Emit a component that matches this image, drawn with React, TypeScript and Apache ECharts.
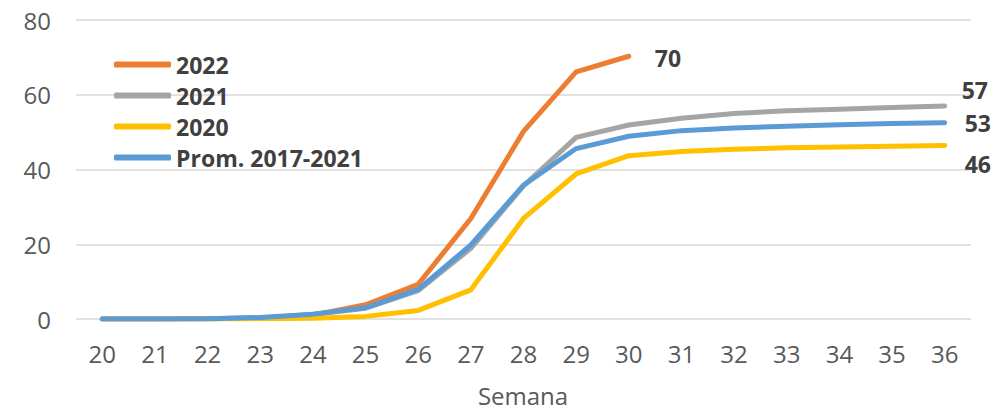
import React, { useEffect, useRef } from "react";
import * as echarts from "echarts";

const weeks = ["20","21","22","23","24","25","26","27","28","29","30","31","32","33","34","35","36"];
const s2022 = [0, 0, 0.1, 0.3, 1.0, 3.8, 9.3, 26.9, 50.2, 66.1, 70.3];
const s2021 = [0, 0, 0.1, 0.3, 1.2, 2.9, 7.6, 18.9, 35.6, 48.6, 51.9, 53.7, 55.0, 55.7, 56.1, 56.6, 57.0];
const s2020 = [0, 0, 0, 0.1, 0.2, 0.7, 2.3, 7.8, 26.9, 38.8, 43.7, 44.8, 45.4, 45.8, 46.0, 46.2, 46.4];
const sProm = [0, 0, 0.1, 0.4, 1.3, 3.0, 7.9, 19.8, 35.8, 45.6, 48.9, 50.4, 51.1, 51.6, 52.0, 52.3, 52.5];
const endLabels = ["70", "57", "46", "53"];
const xTitle = "Semana";

const FONT = "'Open Sans', 'Noto Sans', sans-serif";

export default function App() {
  const ref = useRef<HTMLDivElement>(null);
  useEffect(() => {
    if (!ref.current) return;
    const chart = echarts.init(ref.current, null, { renderer: "svg" });
    const mk = (name: string, data: number[], color: string, label: string, offset: number[]) => ({
      name,
      type: "line",
      data,
      symbol: "none",
      smooth: false,
      lineStyle: { color, width: 5, cap: "round", join: "round" },
      itemStyle: { color },
      endLabel: {
        show: true,
        formatter: label,
        distance: 0,
        offset,
        color: "#404040",
        fontWeight: "bold",
        fontSize: 23,
        fontFamily: FONT,
      },
    });
    chart.setOption({
      animation: false,
      backgroundColor: "#ffffff",
      title: {
        text: xTitle,
        left: 523,
        textAlign: "center",
        top: 383,
        padding: 0,
        textStyle: { color: "#595959", fontSize: 24, fontWeight: "normal", fontFamily: FONT },
      },
      grid: { left: 76, right: 32, top: 20, bottom: 94, containLabel: false, outerBoundsMode: "none" },
      legend: {
        orient: "vertical",
        left: 109,
        top: 48,
        itemWidth: 57,
        itemHeight: 6,
        itemGap: 8,
        icon: "roundRect",
        textStyle: { color: "#404040", fontSize: 23, fontWeight: "bold", fontFamily: FONT },
        data: ["2022", "2021", "2020", "Prom. 2017-2021"],
      },
      xAxis: {
        type: "category",
        data: weeks,
        boundaryGap: true,
        axisLine: { show: false },
        axisTick: { show: false },
        axisLabel: { color: "#595959", fontSize: 24, fontFamily: FONT, margin: 22 },
      },
      yAxis: {
        type: "value",
        min: 0,
        max: 80,
        interval: 20,
        axisLine: { show: false },
        axisTick: { show: false },
        axisLabel: { color: "#595959", fontSize: 24, fontFamily: FONT, margin: 25 },
        splitLine: { lineStyle: { color: "#D9D9D9", width: 1.5 } },
      },
      series: [
        mk("2022", s2022, "#ED7D31", endLabels[0], [26, 2]),
        mk("2021", s2021, "#A5A5A5", endLabels[1], [17, -16]),
        mk("2020", s2020, "#FFC000", endLabels[2], [20, 18]),
        mk("Prom. 2017-2021", sProm, "#5B9BD5", endLabels[3], [20, 0]),
      ],
    });
    return () => chart.dispose();
  }, []);
  return <div ref={ref} style={{ width: 1003, height: 413, margin: -8 }} />;
}
